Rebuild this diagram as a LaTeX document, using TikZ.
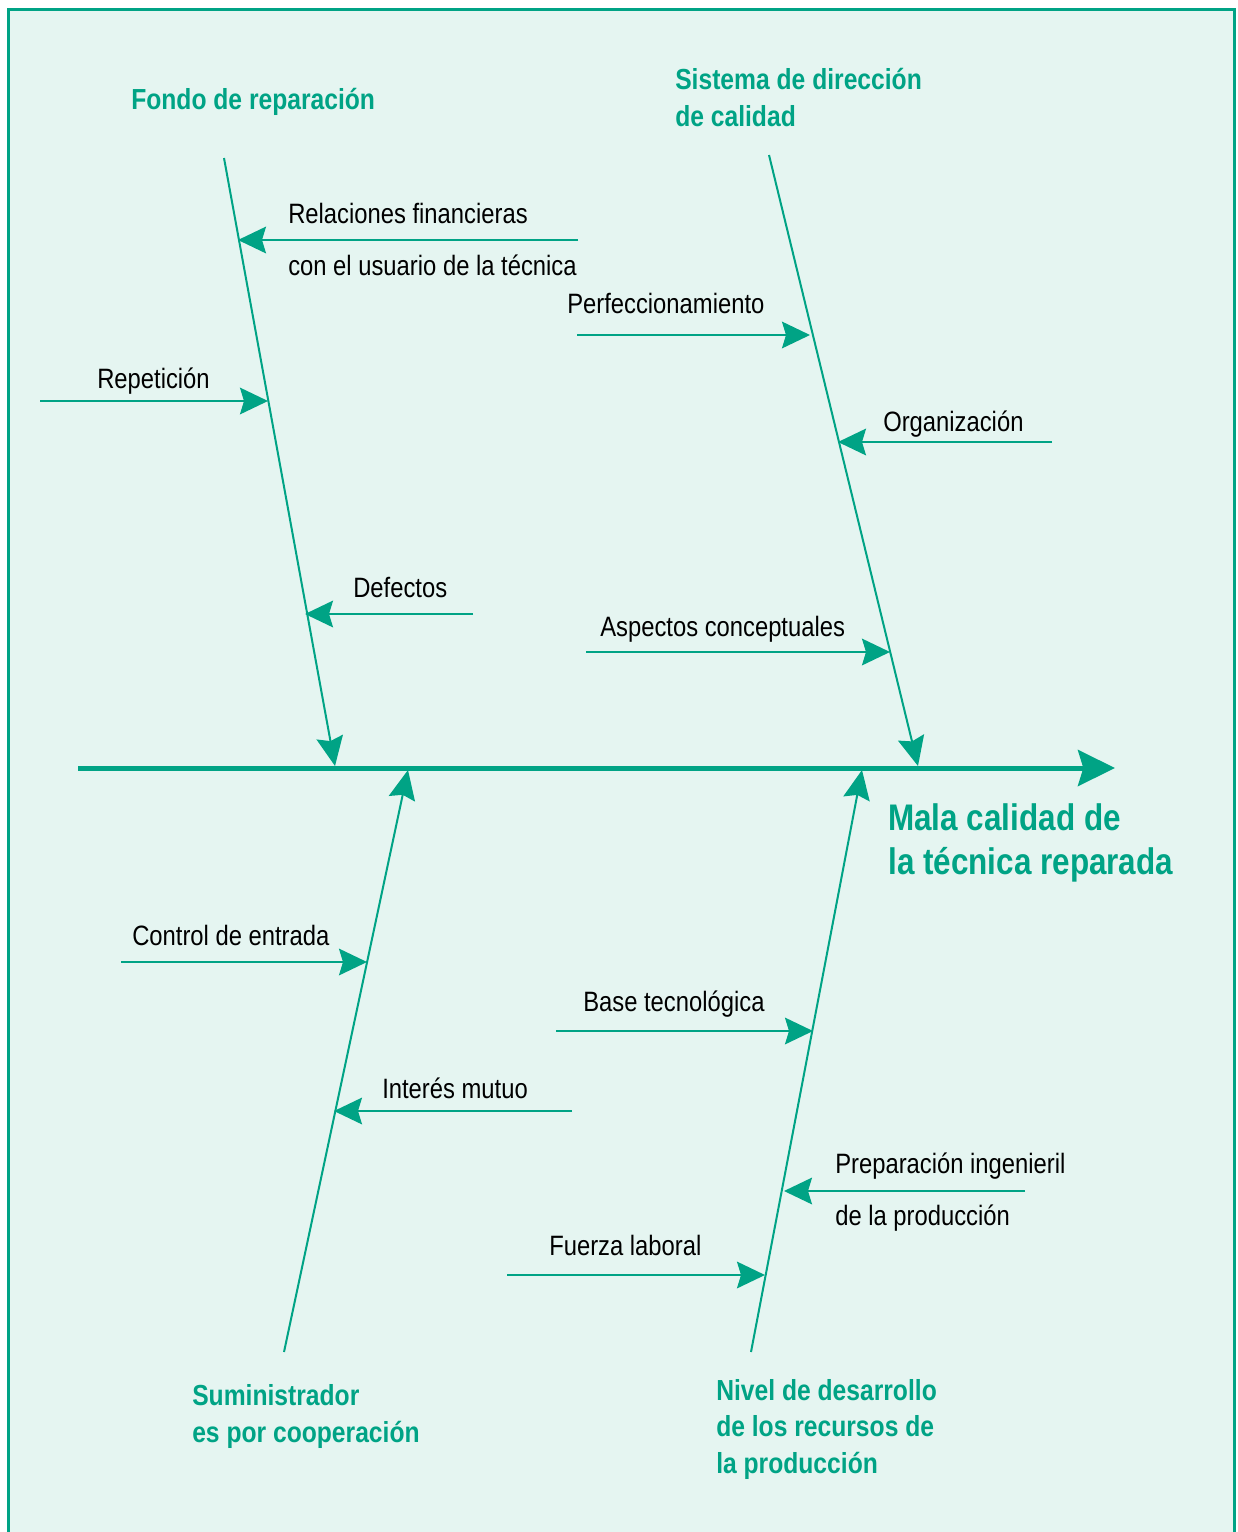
\documentclass[tikz,border=0pt]{standalone}
\usepackage{fontspec}
\setmainfont[FakeStretch=0.85]{Liberation Sans}
\usetikzlibrary{arrows.meta}
\definecolor{teal1}{RGB}{0,163,133}
\definecolor{bgmint}{RGB}{229,245,241}
\tikzset{
  spine/.style={draw=teal1, line width=3.75pt, -{Stealth[length=27.75pt,width=27pt,inset=4pt]}},
  bone/.style={draw=teal1, line width=1.5pt, -{Stealth[length=22pt,width=20pt,inset=3pt]}},
  sub/.style={draw=teal1, line width=1.5pt, -{Stealth[length=21pt,width=20pt,inset=3pt]}},
  lbl/.style={font=\fontsize{21}{25}\selectfont, anchor=base west, inner sep=0pt, text=black},
  cat/.style={font=\bfseries\fontsize{21.75}{27}\selectfont, anchor=base west, inner sep=0pt, text=teal1},
  effect/.style={font=\bfseries\fontsize{27.75}{32}\selectfont, anchor=base west, inner sep=0pt, text=teal1},
}
\begin{document}
\begin{tikzpicture}[x=0.75pt,y=-0.75pt]
\useasboundingbox (0,0) rectangle (1238,1532);
\begin{scope}
\clip (0,0) rectangle (1238,1532);
\draw[draw=teal1, fill=bgmint, line width=2.25pt] (8,9) rectangle (1234,1560);
\end{scope}
% spine
\coordinate (sS) at (78,768);
\coordinate (sE) at (1115,768);
\draw[spine] (sS) -- (sE);
% bones
\coordinate (b1s) at (224,158);  \coordinate (b1e) at (335,766);
\coordinate (b2s) at (769,155);  \coordinate (b2e) at (918,766);
\coordinate (b3s) at (284,1352); \coordinate (b3e) at (408,770);
\coordinate (b4s) at (751,1352); \coordinate (b4e) at (862,770);
\draw[bone] (b1s) -- (b1e);
\draw[bone] (b2s) -- (b2e);
\draw[bone] (b3s) -- (b3e);
\draw[bone] (b4s) -- (b4e);
% sub-causes: tail / tip coordinates
\coordinate (r1t) at (578,240);  \coordinate (r1h) at (238,240);
\coordinate (r2t) at (40,401);   \coordinate (r2h) at (268,401);
\coordinate (r3t) at (473,614);  \coordinate (r3h) at (305,614);
\coordinate (r4t) at (577,335);  \coordinate (r4h) at (810,335);
\coordinate (r5t) at (1052,442); \coordinate (r5h) at (838,442);
\coordinate (r6t) at (586,652);  \coordinate (r6h) at (890,652);
\coordinate (r7t) at (121,962);  \coordinate (r7h) at (367,962);
\coordinate (r8t) at (572,1111); \coordinate (r8h) at (334,1111);
\coordinate (r9t) at (556,1031); \coordinate (r9h) at (813,1031);
\coordinate (r10t) at (1025,1191); \coordinate (r10h) at (784,1191);
\coordinate (r11t) at (507,1275); \coordinate (r11h) at (765,1275);
\foreach \i in {1,...,11} {\draw[sub] (r\i t) -- (r\i h);}
% sub-cause labels
\node[lbl] (t1a) at (288,223) {Relaciones financieras};
\node[lbl] (t1b) at (288,275) {con el usuario de la técnica};
\node[lbl] (t2) at (97,388) {Repetición};
\node[lbl] (t3) at (353,597) {Defectos};
\node[lbl] (t4) at (567,313) {Perfeccionamiento};
\node[lbl] (t5) at (883,431) {Organización};
\node[lbl] (t6) at (600,636) {Aspectos conceptuales};
\node[lbl] (t7) at (132,945) {Control de entrada};
\node[lbl] (t8) at (382,1098) {Interés mutuo};
\node[lbl] (t9) at (583,1011) {Base tecnológica};
\node[lbl] (t10a) at (835,1173) {Preparación ingenieril};
\node[lbl] (t10b) at (835,1225) {de la producción};
\node[lbl] (t11) at (549,1255) {Fuerza laboral};
% category labels
\node[cat] (c1) at (131,109) {Fondo de reparación};
\node[cat] (c2a) at (675,89) {Sistema de dirección};
\node[cat] (c2b) at (675,126) {de calidad};
\node[cat] (c3a) at (192,1405) {Suministrador};
\node[cat] (c3b) at (192,1442) {es por cooperación};
\node[cat] (c4a) at (716,1400) {Nivel de desarrollo};
\node[cat] (c4b) at (716,1436) {de los recursos de};
\node[cat] (c4c) at (716,1473) {la producción};
% effect
\node[effect] (e1) at (888,830) {Mala calidad de};
\node[effect] (e2) at (888,874) {la técnica reparada};
\end{tikzpicture}
\end{document}
